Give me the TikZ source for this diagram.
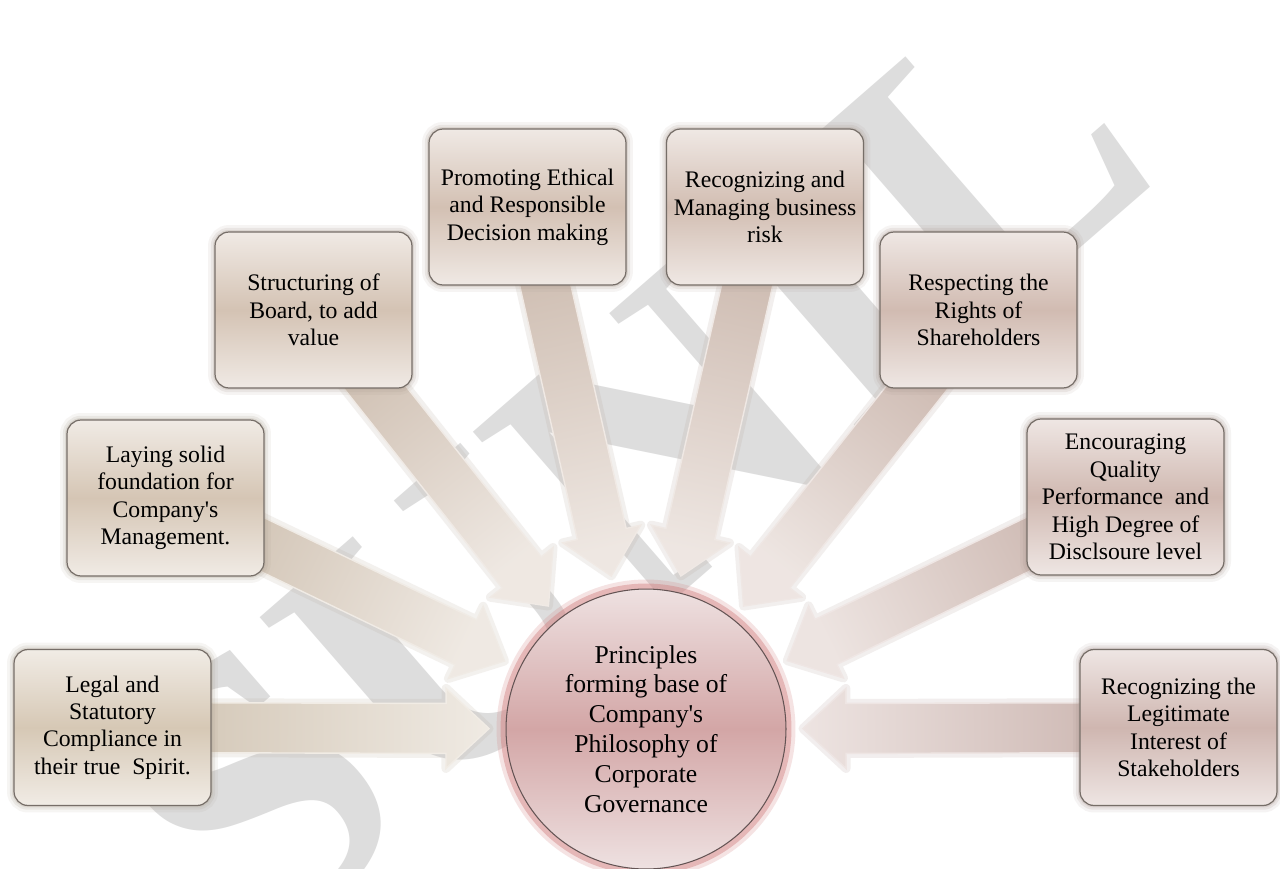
\documentclass[tikz,border=0pt]{standalone}
\usepackage{fontspec}
\setmainfont{Liberation Serif}
\usetikzlibrary{calc}

\pgfdeclarelayer{paper}
\pgfdeclarelayer{marklayer}
\pgfdeclarelayer{arrowlayer}
\pgfsetlayers{paper,marklayer,arrowlayer,main}

% colour ramp from sand (left) to dusty rose (right)
\definecolor{sand}{RGB}{214,200,181}
\definecolor{dustrose}{RGB}{207,182,176}
\colorlet{cA}{dustrose!0!sand}
\colorlet{cB}{dustrose!14!sand}
\colorlet{cC}{dustrose!28!sand}
\colorlet{cD}{dustrose!43!sand}
\colorlet{cE}{dustrose!57!sand}
\colorlet{cF}{dustrose!71!sand}
\colorlet{cG}{dustrose!86!sand}
\colorlet{cH}{dustrose!100!sand}
\definecolor{boxedge}{RGB}{118,110,104}
\definecolor{hubmid}{RGB}{211,166,166}
\definecolor{hublight}{RGB}{238,225,225}
\definecolor{hubglow}{RGB}{210,130,130}
\definecolor{hubedge}{RGB}{100,84,84}
\definecolor{markgray}{RGB}{221,221,221}

\newcommand\boxfont{\fontsize{13.5}{15.6}\selectfont}
\newcommand\hubfont{\fontsize{14.6}{17}\selectfont}
\newcommand\q{\textquotesingle}

\tikzset{
  pbox/.style={rectangle, rounded corners=0.28cm,
    minimum width=3.94cm, minimum height=3.12cm, inner sep=1pt,
    align=center, font=\boxfont,
    top color=#1!35!white, bottom color=#1!35!white, middle color=#1,
    draw=boxedge, line width=0.7pt,
    preaction={draw=#1!80!black, draw opacity=.10, line width=0.28cm},
    preaction={draw=#1!80!black, draw opacity=.16, line width=0.17cm},
    preaction={draw=#1!85!black, draw opacity=.25, line width=0.08cm}},
  hubnode/.style={circle, minimum size=5.6cm, inner sep=0pt,
    align=center, font=\hubfont,
    top color=hublight, bottom color=hublight, middle color=hubmid,
    draw=hubedge, line width=0.6pt,
    preaction={draw=hubglow, draw opacity=.22, line width=0.38cm},
    preaction={draw=hubglow, draw opacity=.45, line width=0.22cm}},
}

% broad block arrow from a box to the hub, shaded from the box colour
% towards a pale tip
\newcommand\convarrow[2]{%
  \pgfmathanglebetweenpoints{\pgfpointanchor{hub}{center}}{\pgfpointanchor{#1}{center}}%
  \let\arrang\pgfmathresult
  \pgfmathsetmacro\shadang{\arrang-90}%
  \shade[top color=#2!96!black, bottom color=#2!38!white, shading angle=\shadang,
         draw=#2!35!white, line width=0.8pt, line join=miter,
         preaction={draw=#2!85!black, draw opacity=.16, line width=0.18cm, line join=round}]
    ($(#1.center)+({\arrang+90}:0.5cm)$)
    -- ($(hub.center)+(\arrang:4cm)+({\arrang+90}:0.5cm)$)
    -- ($(hub.center)+(\arrang:4cm)+({\arrang+90}:0.8cm)$)
    -- ($(hub.center)+(\arrang:3.14cm)$)
    -- ($(hub.center)+(\arrang:4cm)+({\arrang-90}:0.8cm)$)
    -- ($(hub.center)+(\arrang:4cm)+({\arrang-90}:0.5cm)$)
    -- ($(#1.center)+({\arrang-90}:0.5cm)$) -- cycle;
}

\begin{document}
\begin{tikzpicture}[x=0.02cm, y=-0.02cm]
\useasboundingbox (0,0) rectangle (1280,868);
\begin{pgfonlayer}{paper}
  \fill[white] (0,0) rectangle (1280,868);
\end{pgfonlayer}

% hub and the eight principle boxes
\node[hubnode] (hub) at (646,729)
  {Principles\\forming base of\\Company\q s\\Philosophy of\\Corporate\\Governance};

\node[pbox=cA] (legal) at (112.5,727.5)
  {Legal and\\Statutory\\Compliance in\\their true\ \ Spirit.};
\node[pbox=cB] (laying) at (165.5,498)
  {Laying solid\\foundation for\\Company\q s\\Management.};
\node[pbox=cC] (board) at (313.5,310)
  {Structuring of\\Board, to add\\value};
\node[pbox=cD] (ethics) at (527.5,207)
  {Promoting Ethical\\and Responsible\\Decision making};
\node[pbox=cE] (risk) at (765,207)
  {Recognizing and\\Managing business\\risk};
\node[pbox=cF] (rights) at (978.5,310)
  {Respecting the\\Rights of\\Shareholders};
\node[pbox=cG] (quality) at (1125.5,497)
  {Encouraging\\Quality\\Performance\ \ and\\High Degree of\\Disclsoure level};
\node[pbox=cH] (stake) at (1178.5,727.5)
  {Recognizing the\\Legitimate\\Interest of\\Stakeholders};

\begin{pgfonlayer}{arrowlayer}
  \convarrow{ethics}{cD}
  \convarrow{risk}{cE}
  \convarrow{board}{cC}
  \convarrow{rights}{cF}
  \convarrow{laying}{cB}
  \convarrow{quality}{cG}
  \convarrow{legal}{cA}
  \convarrow{stake}{cH}
\end{pgfonlayer}

\begin{pgfonlayer}{marklayer}
  \node[rotate=41, text=markgray, inner sep=0pt,
        font=\fontsize{225}{225}\selectfont\bfseries] (mark) at (628,470) {SUNIL};
\end{pgfonlayer}
\end{tikzpicture}
\end{document}
